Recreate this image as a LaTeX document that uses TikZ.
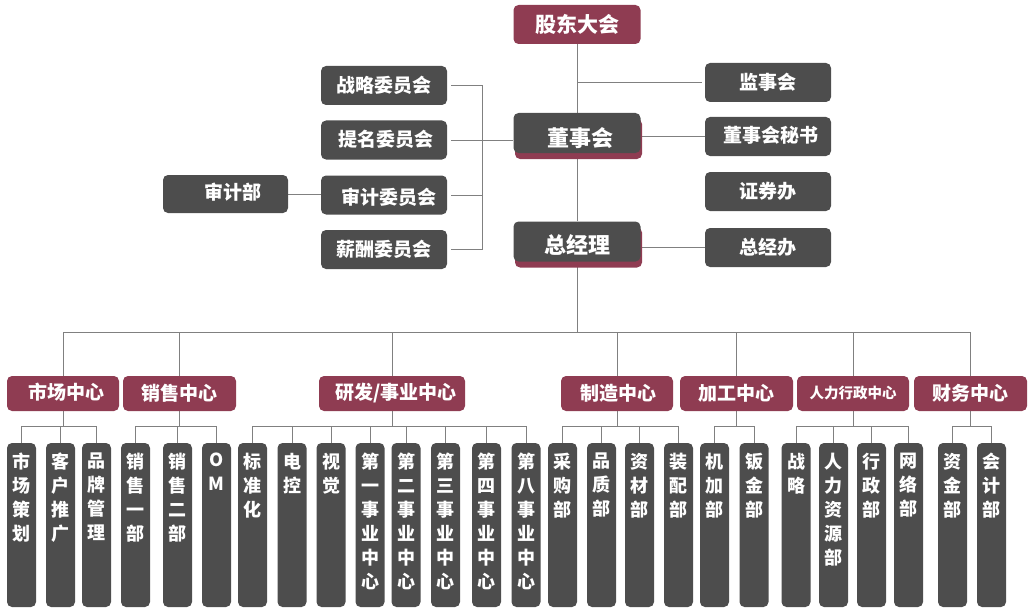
\documentclass[tikz,border=0pt]{standalone}
\usepackage{fontspec}
\setmainfont{Noto Sans CJK SC}
\usetikzlibrary{shadows,backgrounds}
\definecolor{maroon}{HTML}{8F3C52}
\definecolor{slate}{HTML}{4D4D4D}
\definecolor{linegrey}{HTML}{808080}
\newcommand{\fs}[1]{\fontsize{#1}{#1}\selectfont}
\newcommand{\vcol}[1]{\parbox[c][164pt][t]{29pt}{\centering\fontsize{18}{24}\selectfont\vspace*{10pt}#1}}
\newcommand{\nudge}[3]{\hspace*{#1}\raisebox{#2}[0.8em][0.2em]{#3}}
\tikzset{
  box/.style={rounded corners=5pt, text=white, inner sep=0pt},
  redbox/.style={box, fill=maroon, minimum width=112pt, minimum height=35pt, font=\bfseries\fs{19}},
  greybox/.style={box, fill=slate, minimum width=126pt, minimum height=39pt, font=\bfseries\fs{19}},
  headbox/.style={box, fill=slate, minimum width=127pt, minimum height=40pt, font=\bfseries\fs{22},
    drop shadow={shadow xshift=1.5pt, shadow yshift=-6pt, fill=maroon, opacity=1}},
  colbox/.style={box, fill=slate, minimum width=29pt, minimum height=164pt, font=\bfseries},
  link/.style={draw=linegrey, line width=1pt}
}
\begin{document}
\begin{tikzpicture}[x=1pt,y=-1pt]
  \useasboundingbox (0,0) rectangle (1035,615);
  % top of the chart
  \node[redbox, minimum width=127pt, minimum height=39pt, font=\bfseries\fs{21}] (gd) at (577,24.5) {股东大会};
  \node[headbox] (dsh) at (577,133) {\nudge{6pt}{-7pt}{董事会}};
  \node[headbox] (zjl) at (577,241.5) {\nudge{0pt}{-5pt}{总经理}};
  \node[greybox] (jsh) at (768,82.5) {监事会};
  \node[greybox] (dsms) at (768,136.5) {\nudge{5pt}{0pt}{董事会秘书}};
  \node[greybox] (zqb) at (768,191.5) {证券办};
  \node[greybox] (zjb) at (768,247.5) {总经办};
  \node[greybox] (zlwy) at (384,85.5) {战略委员会};
  \node[greybox] (tmwy) at (384,140) {\nudge{4pt}{-1pt}{提名委员会}};
  \node[greybox] (sjwy) at (384,195) {\nudge{10pt}{-4pt}{审计委员会}};
  \node[greybox] (xcwy) at (384,249.5) {薪酬委员会};
  \node[greybox, minimum width=125pt, minimum height=38pt] (sjb) at (225.5,194) {\nudge{15pt}{0pt}{审计部}};
  \coordinate (brk) at (482,0);
  % centres
  \node[redbox] (scz) at (63,393.5) {\nudge{6pt}{0pt}{市场中心}};
  \node[redbox, minimum width=113pt] (xsz) at (179.5,393.5) {销售中心};
  \node[redbox, minimum width=146pt] (yfz) at (392,393.5) {\nudge{8pt}{0pt}{研发/事业中心}};
  \node[redbox] (zzz) at (617,393.5) {\nudge{2pt}{-1pt}{制造中心}};
  \node[redbox, minimum width=113pt] (jgz) at (736.5,393.5) {加工中心};
  \node[redbox, font=\bfseries\fs{14.5}] (rlz) at (853,393.5) {人力行政中心};
  \node[redbox, minimum width=113pt] (cwz) at (970.5,393.5) {财务中心};
  % departments
  \foreach \n/\x/\t in {sc1/21.5/{市\\场\\策\\划}, sc2/60.5/{客\\户\\推\\广}, sc3/96.5/{品\\牌\\管\\理},
      xs1/135.5/{销\\售\\一\\部}, xs2/177.5/{销\\售\\二\\部}, xs3/216.5/{O\\M},
      yf1/252.5/{标\\准\\化}, yf2/292/{电\\控}, yf3/331/{视\\觉}, yf4/370/{第\\一\\事\\业\\中\\心},
      yf5/406/{第\\二\\事\\业\\中\\心}, yf6/445.5/{第\\三\\事\\业\\中\\心}, yf7/486.5/{第\\四\\事\\业\\中\\心},
      yf8/526/{第\\八\\事\\业\\中\\心},
      zz1/562.5/{采\\购\\部}, zz2/601.5/{品\\质\\部}, zz3/639.5/{资\\材\\部}, zz4/678.5/{装\\配\\部},
      jg1/714.5/{机\\加\\部}, jg2/754/{钣\\金\\部},
      rl1/796/{战\\略}, rl2/833.5/{人\\力\\资\\源\\部}, rl3/871.5/{行\\政\\部}, rl4/908.5/{网\\络\\部},
      cw1/952.5/{资\\金\\部}, cw2/991.5/{会\\计\\部}}
    \node[colbox] (\n) at (\x,525) {\vcol{\t}};
  % connectors
  \begin{scope}[on background layer]
    \draw[link] (gd) -- (zjl);
    \draw[link, shorten <=3pt] (jsh.west) -- (jsh.west -| gd);
    \draw[link] (dsms.west) -- (dsms.west -| dsh.east);
    \draw[link] (zjb.west) -- (zjb.west -| zjl.east);
    \foreach \c in {zlwy,tmwy,sjwy,xcwy}
      \draw[link, shorten <=4pt] (\c.east) -- (\c.east -| brk);
    \draw[link] (zlwy.east -| brk) -- (xcwy.east -| brk);
    \draw[link] (tmwy.east -| brk) -- (tmwy.east -| dsh.west);
    \draw[link] (sjb.east) -- (sjb.east -| sjwy.west);
    \foreach \p in {scz,xsz,yfz,zzz,jgz,rlz,cwz}
      \draw[link] (zjl.south) -- ++(0,71) -| (\p.north);
    \foreach \p/\ks in {scz/{sc1,sc2,sc3}, xsz/{xs1,xs2,xs3}, yfz/{yf1,yf2,yf3,yf4,yf5,yf6,yf7,yf8},
        zzz/{zz1,zz2,zz3,zz4}, jgz/{jg1,jg2}, rlz/{rl1,rl2,rl3,rl4}, cwz/{cw1,cw2}}
      \foreach \k in \ks
        \draw[link] (\p.south) -- ++(0,15) -| (\k.north);
  \end{scope}
\end{tikzpicture}
\end{document}
